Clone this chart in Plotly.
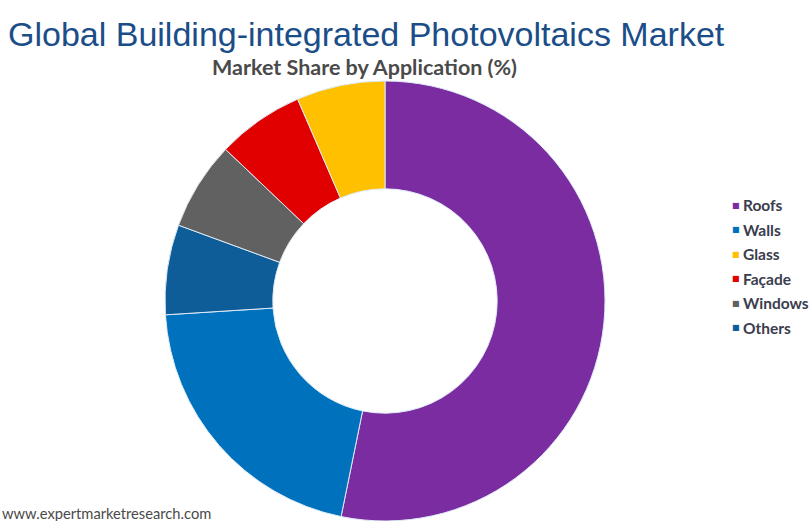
import plotly.graph_objects as go

# Slice order (clockwise from 12 o'clock)
slice_labels = ["Roofs", "Walls", "Others", "Windows", "Façade", "Glass"]
slice_shares = [53.2, 20.8, 6.6, 6.5, 6.4, 6.5]

# Legend order
legend_labels = ["Roofs", "Walls", "Glass", "Façade", "Windows", "Others"]

colors = {
    "Roofs": "#7A2CA0",
    "Walls": "#0071BC",
    "Glass": "#FFC000",
    "Façade": "#E00000",
    "Windows": "#616161",
    "Others": "#0E5C98",
}

W, H = 812, 521
cx, cy, r = 385, 301, 220  # donut centre / radius in pixels

fig = go.Figure()

fig.add_trace(go.Pie(
    labels=slice_labels,
    values=slice_shares,
    sort=False,
    direction="clockwise",
    rotation=0,
    hole=0.51,
    marker=dict(colors=[colors[l] for l in slice_labels],
                line=dict(color="#DDEBF7", width=1)),
    textinfo="none",
    hoverinfo="label+percent",
    showlegend=False,
    domain=dict(x=[(cx - r) / W, (cx + r) / W],
                y=[max(0, (H - cy - r) / H), (H - cy + r) / H]),
))

annotations = [
    dict(text="Global Building-integrated Photovoltaics Market",
         xref="paper", yref="paper", x=6 / W, y=1 - 34 / H,
         xanchor="left", yanchor="middle", showarrow=False,
         font=dict(family="Liberation Sans", size=34, color="#1B4E88")),
    dict(text="Market Share by Application (%)",
         xref="paper", yref="paper", x=364 / W, y=1 - 67 / H,
         xanchor="center", yanchor="middle", showarrow=False,
         font=dict(family="Lato", size=21.5, color="#4A4A4A", weight="bold")),
    dict(text="www.expertmarketresearch.com",
         xref="paper", yref="paper", x=0, y=1 - 513 / H,
         xanchor="left", yanchor="middle", showarrow=False,
         font=dict(family="Lato", size=14.7, color="#4A4A4A")),
]

# Legend: coloured square + label for each entry
leg_x, leg_y0, leg_dy = 736, 205, 24.5
for i, lab in enumerate(legend_labels):
    yy = 1 - (leg_y0 + i * leg_dy) / H
    annotations.append(dict(
        text="■", xref="paper", yref="paper", x=leg_x / W, y=yy,
        xanchor="center", yanchor="middle", showarrow=False,
        font=dict(family="DejaVu Sans", size=8, color=colors[lab])))
    annotations.append(dict(
        text=lab, xref="paper", yref="paper", x=(leg_x + 5) / W, y=yy,
        xanchor="left", yanchor="middle", showarrow=False,
        font=dict(family="Lato", size=15.5, color="#3A3D4D", weight="bold")))

fig.update_layout(
    width=W, height=H,
    margin=dict(l=0, r=0, t=0, b=0),
    paper_bgcolor="white",
    plot_bgcolor="white",
    showlegend=False,
    annotations=annotations,
)

fig.write_html("out.html")
